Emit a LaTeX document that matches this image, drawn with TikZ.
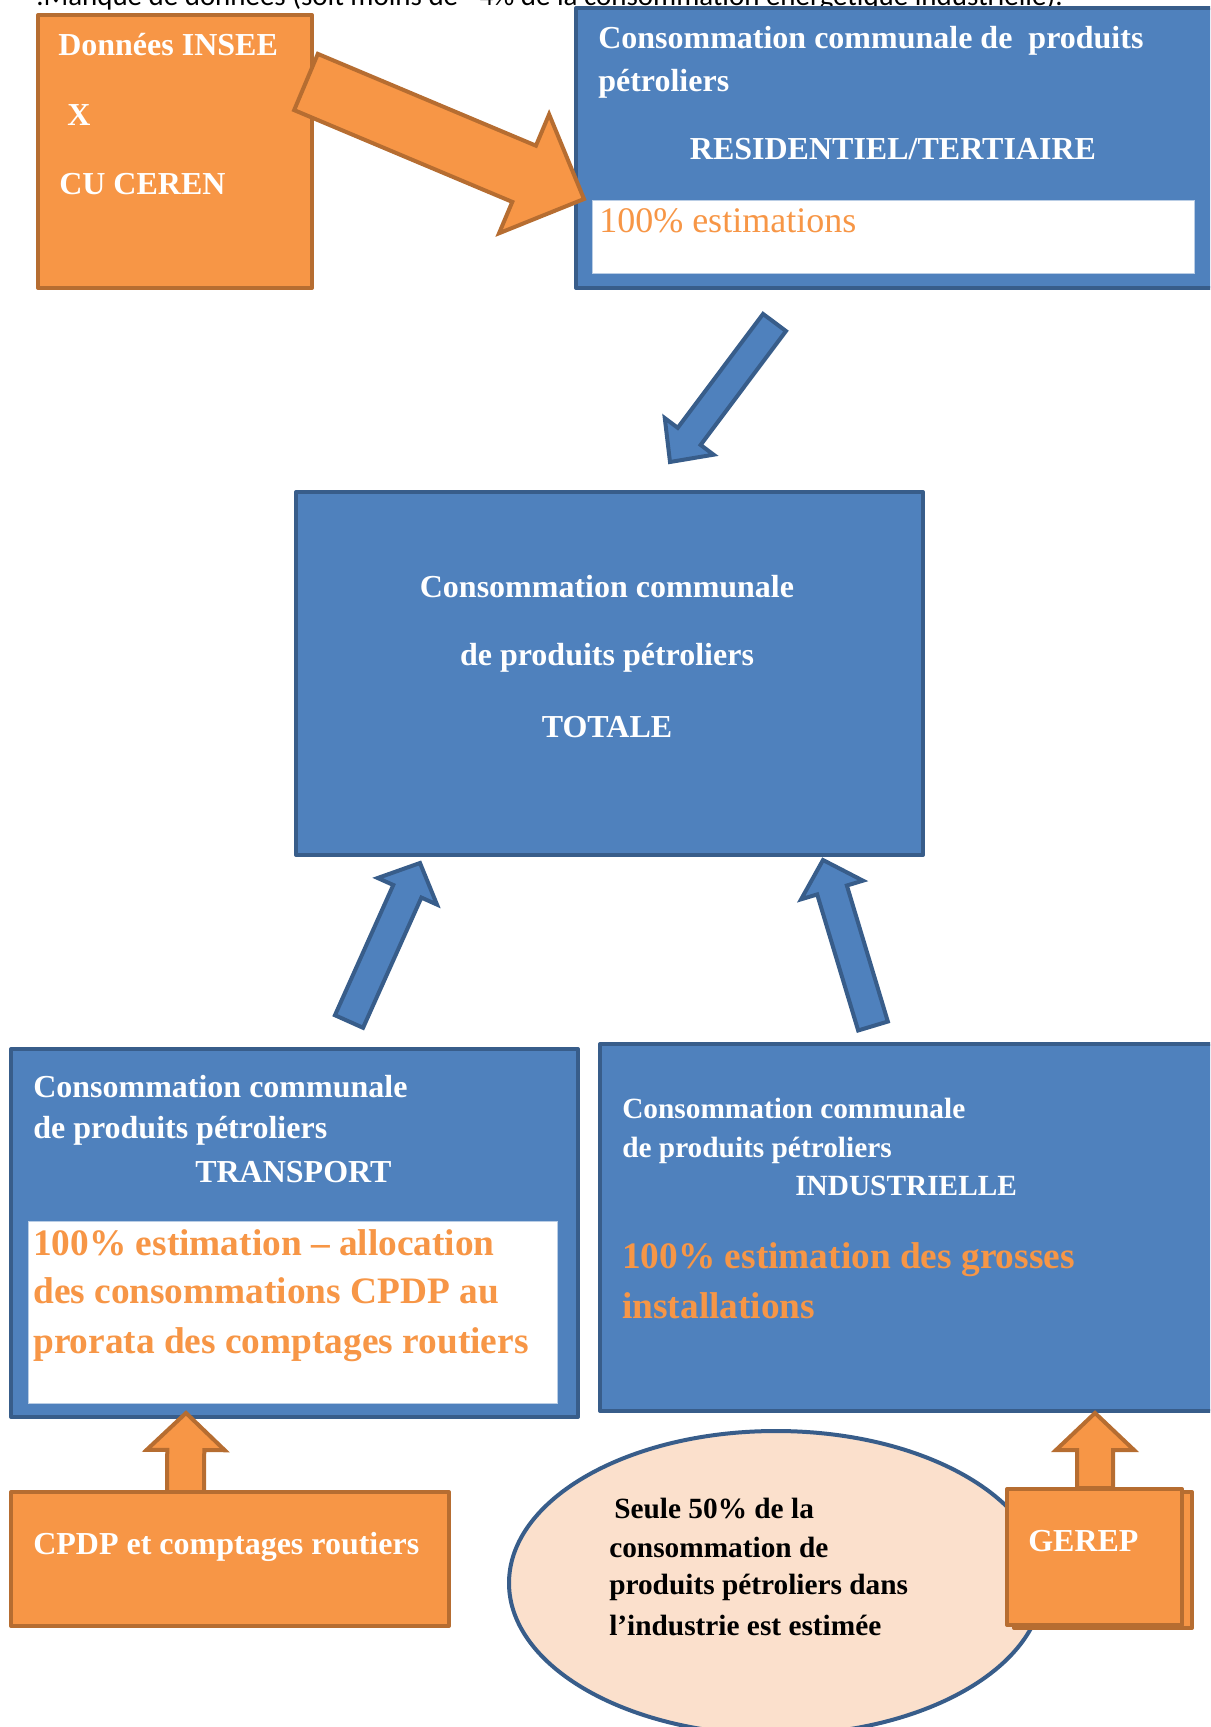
\documentclass[tikz,border=0pt]{standalone}
\usepackage{fontspec}
\setmainfont{Liberation Serif}
\newfontfamily\calib{Carlito}
\usetikzlibrary{calc,shapes.geometric}
\definecolor{bfill}{HTML}{4F81BD}
\definecolor{bline}{HTML}{385D8A}
\definecolor{ofill}{HTML}{F79646}
\definecolor{oline}{HTML}{B66D31}
\definecolor{peach}{HTML}{FBE0CC}
\newcommand\blockarrow[6]{%
  \coordinate (ba-n) at ($(#2)!#5*0.75pt!(#1)$);
  \draw[#6] ($(#1)!#3*0.75pt!90:(#2)$) -- ($(ba-n)!#3*0.75pt!90:(#2)$)
    -- ($(ba-n)!#4*0.75pt!90:(#2)$) -- (#2) -- ($(ba-n)!#4*0.75pt!-90:(#2)$)
    -- ($(ba-n)!#3*0.75pt!-90:(#2)$) -- ($(#1)!#3*0.75pt!-90:(#2)$) -- cycle;}
\tikzset{
  bluebox/.style={draw=bline, fill=bfill, line width=3pt, inner sep=0, anchor=north west, line join=round},
  orangebox/.style={draw=oline, fill=ofill, line width=3pt, inner sep=0, anchor=north west, line join=round},
  whitebox/.style={draw=bfill!40, fill=white, line width=0.75pt, inner sep=0, anchor=north west},
  wt/.style={inner sep=0, text=white, font=\bfseries\fontsize{24}{28}\selectfont},
  wts/.style={inner sep=0, text=white, font=\bfseries\fontsize{22}{26}\selectfont},
  ot/.style={inner sep=0, text=ofill, font=\bfseries\fontsize{28}{32}\selectfont},
  bt/.style={inner sep=0, text=black, font=\bfseries\fontsize{22}{26}\selectfont},
  oarrow/.style={draw=oline, fill=ofill, line width=3pt, line join=miter},
  barrow/.style={draw=bline, fill=bfill, line width=3pt, line join=miter},
}
\begin{document}
\begin{tikzpicture}[x=0.75pt,y=-0.75pt]
\useasboundingbox (0,0) rectangle (1210,1727);
\clip (0,0) rectangle (1210,1727);

% cut-off note at top
\node[anchor=base west, inner sep=0, font=\calib\fontsize{21.7}{25}\selectfont] (note) at (36,6)
  {.Manque de données (soit moins de \textasciitilde4\% de la consommation énergétique industrielle).};

% INSEE box
\node[orangebox, minimum width=205.5pt, minimum height=204.75pt] (insee) at (36,13) {};
\node[wt, anchor=base west] (insee1) at (58,56) {Données INSEE};
\node[wt, anchor=base west] (insee2) at (67,125) {X};
\node[wt, anchor=base west] (insee3) at (59,194) {CU CEREN};

% Residential / tertiary box
\node[bluebox, minimum width=480pt, minimum height=210pt] (res) at (574,6) {};
\node[wt, anchor=base west] (res1) at (598,49) {Consommation communale de \ produits};
\node[wt, anchor=base west] (res2) at (598,91) {pétroliers};
\node[wt, anchor=base] (res3) at (893,159) {RESIDENTIEL/TERTIAIRE};
\node[whitebox, minimum width=451.5pt, minimum height=54.75pt] (resw) at (592,200) {};
\node[inner sep=0, anchor=base west, text=ofill, font=\fontsize{27}{31}\selectfont] (res4) at (599,232) {100\% estimations};

% orange arrow INSEE -> residential
\coordinate (a1t) at (306,82);
\coordinate (a1h) at (584,199);
\blockarrow{a1t}{a1h}{30.5}{64.5}{65}{oarrow}

% Total box
\node[bluebox, minimum width=470.25pt, minimum height=272.25pt] (tot) at (294,490) {};
\node[wt, anchor=base] (tot1) at (607,597) {Consommation communale};
\node[wt, anchor=base] (tot2) at (607,665) {de produits pétroliers};
\node[wt, anchor=base] (tot3) at (607,737) {TOTALE};

% blue arrow residential -> total
\coordinate (a2t) at (774.5,322.5);
\coordinate (a2h) at (670,462);
\blockarrow{a2t}{a2h}{14.3}{30.5}{32}{barrow}

% Transport box
\node[bluebox, minimum width=425.25pt, minimum height=276pt] (tra) at (9,1047) {};
\node[wt, anchor=base west] (tra1) at (33,1097) {Consommation communale};
\node[wt, anchor=base west] (tra2) at (33,1138) {de produits pétroliers};
\node[wt, anchor=base west] (tra3) at (195,1182) {TRANSPORT};
\node[whitebox, minimum width=396.75pt, minimum height=136.5pt] (traw) at (28,1221) {};
\node[ot, anchor=base west] (tra4) at (33,1255) {100\% estimation -- allocation};
\node[ot, anchor=base west] (tra5) at (33,1303) {des consommations CPDP au};
\node[ot, anchor=base west] (tra6) at (33,1353) {prorata des comptages routiers};

% Industrial box
\node[bluebox, minimum width=462pt, minimum height=275.25pt] (ind) at (598,1042) {};
\node[wts, anchor=base west] (ind1) at (622,1118) {Consommation communale};
\node[wts, anchor=base west] (ind2) at (622,1157) {de produits pétroliers};
\node[wts, anchor=base west] (ind3) at (795,1195) {INDUSTRIELLE};
\node[ot, anchor=base west] (ind4) at (622,1268) {100\% estimation des grosses};
\node[ot, anchor=base west] (ind5) at (622,1318) {installations};

% blue arrows transport/industrial -> total
\coordinate (a3t) at (349,1021.5);
\coordinate (a3h) at (420,863);
\blockarrow{a3t}{a3h}{15.4}{32.5}{31}{barrow}
\coordinate (a4t) at (873,1026);
\coordinate (a4h) at (823,860);
\blockarrow{a4t}{a4h}{15.5}{32.3}{31.3}{barrow}

% small orange arrows
\coordinate (a5t) at (185.5,1493);
\coordinate (a5h) at (186,1413);
\blockarrow{a5t}{a5h}{18.5}{39}{37}{oarrow}
\coordinate (a6t) at (1095,1488);
\coordinate (a6h) at (1095,1413);
\blockarrow{a6t}{a6h}{18}{39}{37}{oarrow}

% CPDP box
\node[orangebox, minimum width=328.5pt, minimum height=100.5pt] (cpdp) at (9,1490) {};
\node[wt, anchor=base west] (cpdp1) at (33,1554) {CPDP et comptages routiers};

% ellipse
\node[ellipse, draw=bline, fill=peach, line width=3pt, minimum width=400.5pt, minimum height=228pt, inner sep=0] (ell) at (776,1583) {};
\node[bt, anchor=base west] (ell1) at (614,1518) {Seule 50\% de la};
\node[bt, anchor=base west] (ell2) at (609,1557) {consommation de};
\node[bt, anchor=base west] (ell3) at (609,1594) {produits pétroliers dans};
\node[bt, anchor=base west] (ell4) at (609,1635) {l’industrie est estimée};

% GEREP box
\node[orangebox, minimum width=133.5pt, minimum height=102pt] (gerepb) at (1012,1490) {};
\node[orangebox, minimum width=131.25pt, minimum height=102pt] (gerep) at (1005,1487) {};
\node[wt, anchor=base west] (gerep1) at (1028,1551) {GEREP};
\end{tikzpicture}
\end{document}
